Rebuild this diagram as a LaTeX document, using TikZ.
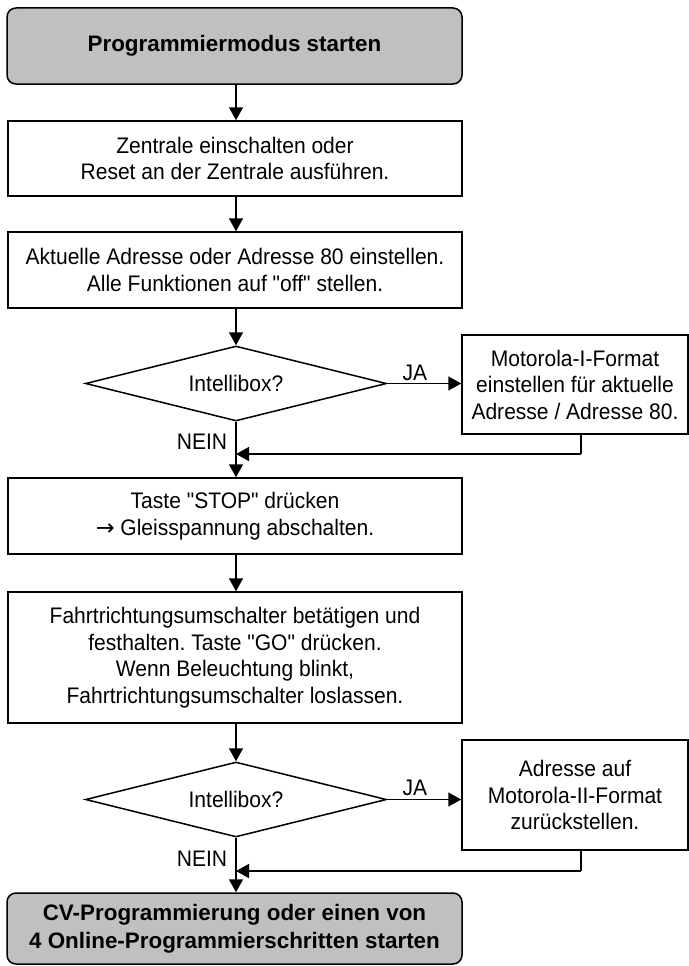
\documentclass[tikz,border=0pt]{standalone}
\usepackage{fontspec}
\setmainfont{Liberation Sans}[Ligatures=TeXOff,FakeStretch=0.935]
\newfontfamily\boldfont{Liberation Sans}[Ligatures=TeXOff]
\newfontfamily\arrowfont{DejaVu Sans}
\usetikzlibrary{shapes.geometric,arrows.meta}
\definecolor{termgray}{HTML}{C0C0C0}
\frenchspacing
\begin{document}
\begin{tikzpicture}[x=1pt,y=-1pt,
  every node/.style={font=\frenchspacing\fontsize{22.5}{26.5}\selectfont},
  box/.style={draw,line width=1.5pt,align=center,inner sep=0pt},
  term/.style={box,fill=termgray,rounded corners=9pt,font=\boldfont\bfseries\fontsize{22.4}{28}\selectfont},
  dec/.style={draw,line width=1.5pt,shape=diamond,aspect=4,inner sep=0pt,minimum width=301pt,minimum height=75pt},
  lbl/.style={inner sep=0pt},
  arr/.style={line width=1.5pt,-{Triangle[width=14pt,length=13pt]}},
  ln/.style={line width=1.5pt}]
\useasboundingbox (0,0) rectangle (688,966);
\node[term, minimum width=455pt, minimum height=76pt] (start) at (234.5,46) {Programmiermodus starten};
\node[box, minimum width=454pt, minimum height=75pt] (z) at (235,158.5) {Zentrale einschalten oder\\Reset an der Zentrale ausführen.};
\node[box, minimum width=454pt, minimum height=76pt] (a) at (235,270) {Aktuelle Adresse oder Adresse 80 einstellen.\\Alle Funktionen auf "off" stellen.};
\node[dec] (d1) at (236,383.5) {Intellibox?};
\node[box, minimum width=226pt, minimum height=99pt] (m1) at (575,384.5) {Motorola-I-Format\\einstellen für aktuelle\\Adresse / Adresse 80.};
\coordinate (r1) at (581,454);
\node[box, minimum width=454pt, minimum height=76pt] (s) at (235,516) {Taste "STOP" drücken\\{\arrowfont →} Gleisspannung abschalten.};
\node[box, minimum width=454pt, minimum height=131pt] (f) at (235,657.5) {Fahrtrichtungsumschalter betätigen und\\festhalten. Taste "GO" drücken.\\Wenn Beleuchtung blinkt,\\Fahrtrichtungsumschalter loslassen.};
\node[dec] (d2) at (236,799.5) {Intellibox?};
\node[box, minimum width=226pt, minimum height=110pt] (m2) at (575,795) {Adresse auf\\Motorola-II-Format\\zurückstellen.};
\coordinate (r2) at (581,871);
\node[term, minimum width=455pt, minimum height=71pt] (end) at (234.5,928.5) {CV-Programmierung oder einen von\\4 Online-Programmierschritten starten};
\node[lbl] (ja1) at (415,373) {JA};
\node[lbl] (nein1) at (202,442) {NEIN};
\node[lbl] (ja2) at (415,788) {JA};
\node[lbl] (nein2) at (202,859) {NEIN};
% connectors
\draw[arr] (start.south -| d1.center) -- (z.north -| d1.center);
\draw[arr] (z.south -| d1.center) -- (a.north -| d1.center);
\draw[arr] (a.south -| d1.center) -- (d1.north);
\draw[arr] (d1.east) -- (d1.east -| m1.west);
\draw[arr] (d1.south) -- (s.north -| d1.center);
\draw[ln] (m1.south -| r1) -- (r1);
\draw[arr] (r1) -- (r1 -| d1.center);
\draw[arr] (s.south -| d1.center) -- (f.north -| d1.center);
\draw[arr] (f.south -| d1.center) -- (d2.north);
\draw[arr] (d2.east) -- (d2.east -| m2.west);
\draw[arr] (d2.south) -- (end.north -| d2.center);
\draw[ln] (m2.south -| r2) -- (r2);
\draw[arr] (r2) -- (r2 -| d2.center);
\end{tikzpicture}
\end{document}
